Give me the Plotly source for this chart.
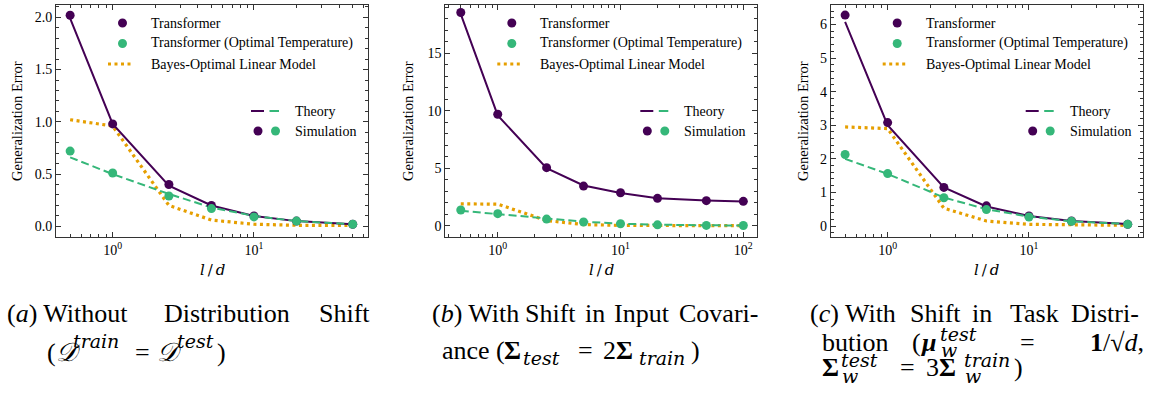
import plotly.graph_objects as go

# ---------------- data ----------------
x_a = [0.5, 1, 2.5, 5, 10, 20, 50]
x_b = [0.5, 1, 2.5, 5, 10, 20, 50, 100]
x_c = [0.5, 1, 2.5, 5, 10, 20, 50]

tr_sim_a = [2.02, 0.98, 0.40, 0.20, 0.10, 0.05, 0.02]
tr_th_a = [1.99, 0.98, 0.39, 0.20, 0.10, 0.05, 0.02]
opt_sim_a = [0.72, 0.51, 0.29, 0.17, 0.09, 0.05, 0.02]
opt_th_a = [0.66, 0.50, 0.31, 0.18, 0.10, 0.05, 0.02]
bayes_a = [1.02, 0.96, 0.20, 0.06, 0.02, 0.01, 0.01]

tr_sim_b = [18.55, 9.70, 5.05, 3.45, 2.87, 2.38, 2.18, 2.12]
tr_th_b = [18.40, 9.60, 5.00, 3.50, 2.85, 2.40, 2.20, 2.10]
opt_sim_b = [1.37, 1.05, 0.58, 0.32, 0.17, 0.08, 0.03, 0.02]
opt_th_b = [1.30, 1.00, 0.60, 0.35, 0.18, 0.09, 0.04, 0.02]
bayes_b = [1.90, 1.88, 0.45, 0.10, 0.03, 0.01, 0.005, 0.0]

tr_sim_c = [6.28, 3.08, 1.15, 0.60, 0.30, 0.15, 0.05]
tr_th_c = [6.08, 3.00, 1.15, 0.58, 0.30, 0.15, 0.06]
opt_sim_c = [2.13, 1.56, 0.84, 0.49, 0.27, 0.14, 0.05]
opt_th_c = [2.00, 1.55, 0.85, 0.50, 0.28, 0.14, 0.06]
bayes_c = [2.95, 2.90, 0.53, 0.15, 0.05, 0.03, 0.02]

xtick_vals_ac = [1, 10]
xtick_text_ac = ["10<sup>0</sup>", "10<sup>1</sup>"]
xtick_vals_b = [1, 10, 100]
xtick_text_b = ["10<sup>0</sup>", "10<sup>1</sup>", "10<sup>2</sup>"]

legend_labels = ["Transformer", "Transformer (Optimal Temperature)", "Bayes-Optimal Linear Model"]
legend2_labels = ["Theory", "Simulation"]

# ---------------- style ----------------
W, H = 1156, 404
PURPLE = "#440154"
GREEN = "#35b779"
ORANGE = "#e69f00"
FONT = "Times New Roman, Liberation Serif, DejaVu Serif, serif"
MATH = "DejaVu Serif, serif"
AX = "#333333"

fig = go.Figure()

panels = [
    dict(x=x_a, trs=tr_sim_a, trt=tr_th_a, ops=opt_sim_a, opt=opt_th_a, bay=bayes_a,
         left=56, right=368, xr=[-0.401, 1.807], yr=[-0.102, 2.118], ydt=0.5, ymin=0.1,
         yfmt=".1f", tv=xtick_vals_ac, tt=xtick_text_ac, ytitle_x=17),
    dict(x=x_b, trs=tr_sim_b, trt=tr_th_b, ops=opt_sim_b, opt=opt_th_b, bay=bayes_b,
         left=445.3, right=756.7, xr=[-0.427, 2.109], yr=[-0.98, 19.2], ydt=5, ymin=1,
         yfmt="d", tv=xtick_vals_b, tt=xtick_text_b, ytitle_x=408),
    dict(x=x_c, trs=tr_sim_c, trt=tr_th_c, ops=opt_sim_c, opt=opt_th_c, bay=bayes_c,
         left=830.7, right=1142.7, xr=[-0.403, 1.805], yr=[-0.327, 6.58], ydt=1, ymin=0.2,
         yfmt="d", tv=xtick_vals_ac, tt=xtick_text_ac, ytitle_x=803),
]
TOP, BOT = 5, 237

def px(x):
    return x / W

def py(y):
    return 1 - y / H

shapes = []
annotations = []

for i, p in enumerate(panels):
    n = "" if i == 0 else str(i + 1)
    xa, ya = "x" + n, "y" + n
    fig.add_trace(go.Scatter(x=p["x"], y=p["bay"], mode="lines", xaxis=xa, yaxis=ya,
                             line=dict(color=ORANGE, width=3.2, dash="3px,3.5px"), showlegend=False))
    fig.add_trace(go.Scatter(x=p["x"], y=p["trt"], mode="lines", xaxis=xa, yaxis=ya,
                             line=dict(color=PURPLE, width=2), showlegend=False))
    fig.add_trace(go.Scatter(x=p["x"], y=p["opt"], mode="lines", xaxis=xa, yaxis=ya,
                             line=dict(color=GREEN, width=2, dash="8px,4px"), showlegend=False))
    fig.add_trace(go.Scatter(x=p["x"], y=p["trs"], mode="markers", xaxis=xa, yaxis=ya,
                             marker=dict(color=PURPLE, size=9), showlegend=False))
    fig.add_trace(go.Scatter(x=p["x"], y=p["ops"], mode="markers", xaxis=xa, yaxis=ya,
                             marker=dict(color=GREEN, size=9), showlegend=False))

    common = dict(showline=True, linecolor=AX, linewidth=1, mirror="allticks", ticks="inside",
                  tickcolor=AX, ticklen=5, showgrid=False, zeroline=False,
                  tickfont=dict(family=FONT, size=14, color="black"))
    fig.update_layout(**{
        "xaxis" + n: dict(type="log", range=p["xr"], domain=[px(p["left"]), px(p["right"])],
                          anchor=ya, tickvals=p["tv"], ticktext=p["tt"],
                          minor=dict(ticks="inside", ticklen=3, tickcolor=AX, dtick="D1", showgrid=False),
                          **common),
        "yaxis" + n: dict(range=p["yr"], domain=[py(BOT), py(TOP)], anchor=xa, dtick=p["ydt"],
                          tickformat=p["yfmt"],
                          minor=dict(ticks="inside", ticklen=3, tickcolor=AX, dtick=p["ymin"], showgrid=False),
                          **common),
    })

    L = p["left"]
    annotations.append(dict(x=px(p["ytitle_x"]), y=py((TOP + BOT) / 2), xref="paper", yref="paper",
                            text="Generalization Error", textangle=-90, showarrow=False,
                            xanchor="center", yanchor="middle",
                            font=dict(family=FONT, size=14.5, color="black")))
    annotations.append(dict(x=px((L + p["right"]) / 2), y=py(270), xref="paper", yref="paper",
                            text="<i>l</i>\u2009/\u2009<i>d</i>", showarrow=False, xanchor="center",
                            yanchor="middle", font=dict(family=MATH, size=15, color="black")))

    # legend 1
    rows = [TOP + 18, TOP + 38.5, TOP + 59]
    for r, lab in zip(rows, legend_labels):
        annotations.append(dict(x=px(L + 93), y=py(r), xref="paper", yref="paper", text=lab,
                                showarrow=False, xanchor="left", yanchor="middle",
                                font=dict(family=FONT, size=14, color="black")))
    for r, c in zip(rows[:2], [PURPLE, GREEN]):
        cx, cy = L + 66.5, r
        shapes.append(dict(type="circle", xref="paper", yref="paper", fillcolor=c, line=dict(width=0),
                           x0=px(cx - 4.5), x1=px(cx + 4.5), y0=py(cy + 4.5), y1=py(cy - 4.5)))
    shapes.append(dict(type="line", xref="paper", yref="paper", x0=px(L + 52), x1=px(L + 78),
                       y0=py(rows[2]), y1=py(rows[2]), line=dict(color=ORANGE, width=3.2, dash="3px,3.5px")))

    # legend 2
    r2 = [TOP + 106, TOP + 126]
    for r, lab in zip(r2, legend2_labels):
        annotations.append(dict(x=px(L + 237), y=py(r), xref="paper", yref="paper", text=lab,
                                showarrow=False, xanchor="left", yanchor="middle",
                                font=dict(family=FONT, size=14, color="black")))
    shapes.append(dict(type="line", xref="paper", yref="paper", x0=px(L + 195), x1=px(L + 208),
                       y0=py(r2[0]), y1=py(r2[0]), line=dict(color=PURPLE, width=2)))
    shapes.append(dict(type="line", xref="paper", yref="paper", x0=px(L + 213.5), x1=px(L + 223),
                       y0=py(r2[0]), y1=py(r2[0]), line=dict(color=GREEN, width=2)))
    for cx, c in [(L + 202, PURPLE), (L + 219.5, GREEN)]:
        cy = r2[1]
        shapes.append(dict(type="circle", xref="paper", yref="paper", fillcolor=c, line=dict(width=0),
                           x0=px(cx - 4.5), x1=px(cx + 4.5), y0=py(cy + 4.5), y1=py(cy - 4.5)))

# ---------------- captions ----------------
CF = dict(family=FONT, size=26, color="black")
SF = dict(family=MATH, size=19, color="black")

def cap(x, y, text, anchor="left", font=CF):
    annotations.append(dict(x=px(x), y=py(y), xref="paper", yref="paper", text=text, showarrow=False,
                            xanchor=anchor, yanchor="middle", font=font))

L1 = 313
# (a)
cap(5, L1, "(<i>a</i>) Without")
cap(227, L1, "Distribution", "center")
cap(372, L1, "Shift", "right")
cap(45, 352, "(<i>𝒟</i>")
cap(71, 341, "<i>train</i>", font=SF)
cap(142, 352, "=", "center")
cap(155, 352, "<i>𝒟</i>")
cap(175, 341, "<i>test</i>", font=SF)
cap(228, 352, ")", "right")

# (b)
cap(440, 350, "ance")
cap(494, 350, "(")
cap(502, 350, "<b>Σ</b>")
cap(521, 358, "<i>test</i>", font=SF)
cap(585, 350, "=", "center")
cap(601, 350, "2<b>Σ</b>")
cap(637, 358, "<i>train</i>", font=SF)
cap(702, 350, ")", "right")
cap(430, L1, "(<i>b</i>) With")
cap(550, L1, "Shift", "center")
cap(595, L1, "in", "center")
cap(642, L1, "Input", "center")
cap(760, L1, "Covari-", "right")

# (c)
cap(808, L1, "(<i>c</i>) With")
cap(935, L1, "Shift", "center")
cap(982, L1, "in", "center")
cap(1034, L1, "Task", "center")
cap(1141, L1, "Distri-", "right")
cap(820, 342, "bution")
cap(910, 342, "(")
cap(918, 342, "<b><i>μ</i></b>")
cap(938, 334, "<i>test</i>", font=SF)
cap(939, 350, "<i>w</i>", font=SF)
cap(1027, 342, "=", "center")
cap(1146, 342, "<b>1</b>/√<i>d</i>,", "right")
cap(820, 367, "<b>Σ</b>")
cap(839, 360, "<i>test</i>", font=SF)
cap(840, 376, "<i>w</i>", font=SF)
cap(907, 367, "=", "center")
cap(924, 367, "3<b>Σ</b>")
cap(962, 360, "<i>train</i>", font=SF)
cap(963, 376, "<i>w</i>", font=SF)
cap(1012, 367, ")")

fig.update_layout(width=W, height=H, autosize=False, margin=dict(l=0, r=0, t=0, b=0),
                  paper_bgcolor="white", plot_bgcolor="white", showlegend=False,
                  font=dict(family=FONT, color="black"), shapes=shapes, annotations=annotations)

fig.write_html("out.html", config={"displayModeBar": False},
               post_script="document.body.style.margin='0px';")
